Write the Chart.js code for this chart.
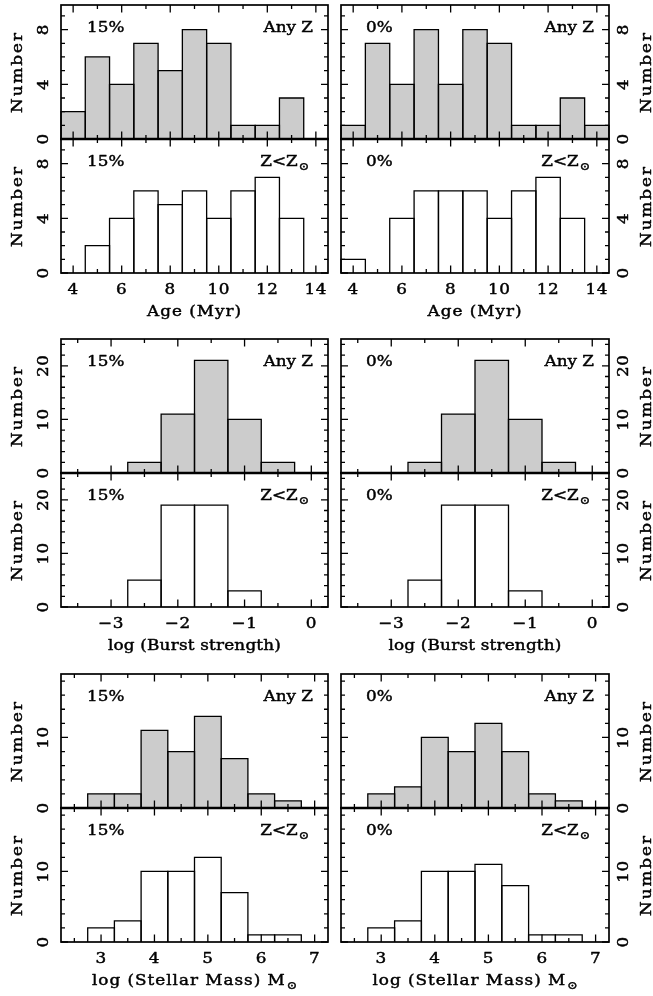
<!DOCTYPE html>
<html><head><meta charset="utf-8">
<script src="https://cdn.jsdelivr.net/npm/chart.js@4.4.1/dist/chart.umd.min.js"></script>
<style>
html,body{margin:0;padding:0;background:#fff;}
#wrap{position:relative;width:653px;height:996px;overflow:hidden;background:#fff;}
canvas{position:absolute;}
</style></head><body><div id="wrap"></div>
<script>
// ---------------- data ----------------
const ageBins   = [4, 5, 6, 7, 8, 9, 10, 11, 12, 13, 14];
const age15Any  = [2, 6, 4, 7, 5, 8, 7, 1, 1, 3, 0];
const age15Sub  = [0, 2, 4, 6, 5, 6, 4, 6, 7, 4, 0];
const age0Any   = [1, 7, 4, 8, 4, 8, 7, 1, 1, 3, 1];
const age0Sub   = [1, 0, 4, 6, 6, 6, 4, 6, 7, 4, 0];

const burstBins  = [-2.5, -2.0, -1.5, -1.0, -0.5];
const burst15Any = [2, 11, 21, 10, 2];
const burst15Sub = [5, 19, 19, 3, 0];
const burst0Any  = [2, 11, 21, 10, 2];
const burst0Sub  = [5, 19, 19, 3, 0];

const massBins  = [3.0, 3.5, 4.0, 4.5, 5.0, 5.5, 6.0, 6.5];
const mass15Any = [2, 2, 11, 8, 13, 7, 2, 1];
const mass15Sub = [2, 3, 10, 10, 12, 7, 1, 1];
const mass0Any  = [2, 3, 10, 8, 12, 8, 2, 1];
const mass0Sub  = [2, 3, 10, 10, 11, 8, 1, 1];

// tick labels
const ageXTicks   = [4, 6, 8, 10, 12, 14];
const ageYTicks   = [0, 4, 8];
const burstXTicks = [-3, -2, -1, 0];
const burstYTicks = [0, 10, 20];
const massXTicks  = [3, 4, 5, 6, 7];
const massYTicks  = [0, 10];

const colLabels = ['15%', '0%'];
const rowLabels = ['Any Z', 'Z<Z'];
const yTitle = 'Number';

// ---------------- layout / style ----------------
const FONT = '"DejaVu Serif", "Liberation Serif", serif';
const GRAY = '#cccccc';
const PH = 134;
const SX = 1.12;      // horizontal glyph stretch
const groups = [
  {top: 5,   xMin: 3.5,   xMax: 14.5, yMax: 9.8, binW: 1,   xMinor: 1,   xMajor: 2, yMinor: 1, yMajor: 4,
   bins: ageBins, series: [[age15Any, age15Sub], [age0Any, age0Sub]], xTicks: ageXTicks, yTicks: ageYTicks,
   title: 'Age (Myr)', titleW: 94},
  {top: 339, xMin: -3.75, xMax: 0.25, yMax: 25,  binW: 0.5, xMinor: 0.5, xMajor: 1, yMinor: 2, yMajor: 10,
   bins: burstBins, series: [[burst15Any, burst15Sub], [burst0Any, burst0Sub]], xTicks: burstXTicks, yTicks: burstYTicks,
   title: 'log (Burst strength)', titleW: 173},
  {top: 674, xMin: 2.25,  xMax: 7.25, yMax: 19,  binW: 0.5, xMinor: 0.5, xMajor: 1, yMinor: 2, yMajor: 10,
   bins: massBins, series: [[mass15Any, mass15Sub], [mass0Any, mass0Sub]], xTicks: massXTicks, yTicks: massYTicks,
   title: 'log (Stellar Mass) M', titleSub: true, titleW: 204}
];
const cols = [
  {left: 61,  right: 328, cx: 0,   cw: 335, side: 'left',  pctW: 30},
  {left: 341, right: 609, cx: 335, cw: 318, side: 'right', pctW: 22}
];

function fmt(v) { return v < 0 ? '\u2212' + Math.abs(v) : String(v); }

function setFont(ctx, size, ls) {
  ctx.font = size + 'px ' + FONT;
  try { ctx.letterSpacing = (ls || 0) + 'px'; } catch (e) {}
}

// draw a string (optionally with a small sun subscript) at (x,y), rotated by rot,
// stretched horizontally by SX, with letter spacing chosen to reach width w (if given)
function drawText(ctx, s, x, y, opt) {
  const size = opt.size || 15, align = opt.align || 'center', rot = opt.rot || 0;
  const sun = !!opt.sun;
  setFont(ctx, 11, 0);
  const wSun = sun ? ctx.measureText('\u2299').width * SX + 1 : 0;
  setFont(ctx, size, 0);
  const n = [...s].length;
  const nat = ctx.measureText(s).width * SX;
  let ls = opt.ls || 0;
  if (opt.w && n > 1) ls = Math.max(0, (opt.w - wSun - nat) / (n - 1) / SX);
  setFont(ctx, size, ls);
  const w1 = ctx.measureText(s).width;
  const tot = w1 * SX + wSun;
  let start = 0;
  if (align === 'right') start = -tot;
  else if (align === 'center') start = -tot / 2;
  ctx.save();
  ctx.translate(x, y);
  if (rot) ctx.rotate(rot);
  ctx.save();
  ctx.translate(start, 0);
  ctx.scale(SX, 1);
  ctx.textAlign = 'left';
  ctx.lineWidth = 0.45; ctx.strokeStyle = '#000'; ctx.lineJoin = 'round';
  ctx.fillText(s, 0, 0);
  ctx.strokeText(s, 0, 0);
  if (sun) {
    setFont(ctx, 11, 0);
    ctx.fillText('\u2299', w1 + 1 / SX, 3.5);
    ctx.strokeText('\u2299', w1 + 1 / SX, 3.5);
  }
  ctx.restore();
  ctx.restore();
}

function makePlugin(g, col, ci, row) {
  return {
    id: 'hist' + ci + row,
    afterDatasetsDraw(chart) {
      const ctx = chart.ctx, ca = chart.chartArea, xs = chart.scales.x, ys = chart.scales.y;
      ctx.save();
      // bar outlines from bar elements
      ctx.strokeStyle = '#000'; ctx.lineWidth = 1.3; ctx.lineJoin = 'miter';
      chart.getDatasetMeta(0).data.forEach(el => {
        const p = el.getProps(['x', 'y', 'base', 'width'], true);
        if (Math.abs(p.base - p.y) < 0.01) return;
        ctx.beginPath();
        ctx.moveTo(p.x - p.width / 2, p.base);
        ctx.lineTo(p.x - p.width / 2, p.y);
        ctx.lineTo(p.x + p.width / 2, p.y);
        ctx.lineTo(p.x + p.width / 2, p.base);
        ctx.stroke();
      });
      // ticks
      ctx.lineWidth = 1.3;
      const eps = 1e-6;
      for (let v = Math.ceil(g.xMin / g.xMinor) * g.xMinor; v <= g.xMax + eps; v += g.xMinor) {
        const px = xs.getPixelForValue(v);
        const major = Math.abs(v / g.xMajor - Math.round(v / g.xMajor)) < eps;
        const L = major ? 7.5 : 4;
        ctx.beginPath();
        ctx.moveTo(px, ca.bottom); ctx.lineTo(px, ca.bottom - L);
        ctx.moveTo(px, ca.top); ctx.lineTo(px, ca.top + L);
        ctx.stroke();
      }
      for (let v = 0; v <= g.yMax + eps; v += g.yMinor) {
        const py = ys.getPixelForValue(v);
        const major = Math.abs(v / g.yMajor - Math.round(v / g.yMajor)) < eps;
        const L = major ? 7 : 4;
        ctx.beginPath();
        ctx.moveTo(ca.left, py); ctx.lineTo(ca.left + L, py);
        ctx.moveTo(ca.right, py); ctx.lineTo(ca.right - L, py);
        ctx.stroke();
      }
      // frame
      ctx.lineWidth = 1.7;
      ctx.strokeRect(ca.left, ca.top, ca.right - ca.left, ca.bottom - ca.top);
      if (row === 0) {   // heavier shared divider between stacked panels
        ctx.lineWidth = 2.4;
        ctx.beginPath();
        ctx.moveTo(ca.left - 0.85, ca.bottom); ctx.lineTo(ca.right + 0.85, ca.bottom);
        ctx.stroke();
      }
      ctx.restore();
    },
    afterDraw(chart) {
      const ctx = chart.ctx, ca = chart.chartArea, xs = chart.scales.x, ys = chart.scales.y;
      ctx.save();
      ctx.fillStyle = '#000';
      ctx.textBaseline = 'alphabetic';
      // annotations
      drawText(ctx, colLabels[ci], ca.left + (ci === 0 ? 26 : 25), ca.top + 27, {align: 'left', w: col.pctW});
      if (row === 0) {
        drawText(ctx, rowLabels[0], ca.right - 15, ca.top + 27, {align: 'right', w: 48});
      } else {
        drawText(ctx, rowLabels[1], ca.right - 19, ca.top + 27, {align: 'right', w: 43, sun: true});
      }
      // y tick labels (rotated)
      const bx = col.side === 'left' ? ca.left - 13 : ca.right + 19;
      g.yTicks.forEach(v => {
        drawText(ctx, fmt(v), bx, ys.getPixelForValue(v), {rot: -Math.PI / 2, ls: 0.5});
      });
      // y title
      const tx = col.side === 'left' ? ca.left - 39 : ca.right + 42;
      drawText(ctx, yTitle, tx, (ca.top + ca.bottom) / 2, {rot: -Math.PI / 2, w: 80});
      // x labels on lower panels
      if (row === 1) {
        g.xTicks.forEach(v => {
          drawText(ctx, fmt(v), xs.getPixelForValue(v), ca.bottom + 21, {ls: 0.5});
        });
        const cxm = (ca.left + ca.right) / 2;
        drawText(ctx, g.title, cxm, ca.bottom + 43, {w: g.titleW, sun: !!g.titleSub});
      }
      ctx.restore();
    }
  };
}

const wrap = document.getElementById('wrap');
groups.forEach(g => {
  cols.forEach((col, ci) => {
    [0, 1].forEach(row => {
      const ftop = g.top + row * PH;
      const padTop = 10, padBot = row === 1 ? 56 : 10;
      const ch = padTop + PH + padBot;
      const cv = document.createElement('canvas');
      cv.width = col.cw; cv.height = ch;
      cv.style.left = col.cx + 'px'; cv.style.top = (ftop - padTop) + 'px';
      cv.style.width = col.cw + 'px'; cv.style.height = ch + 'px';
      wrap.appendChild(cv);
      const vals = g.series[ci][row];
      new Chart(cv, {
        type: 'bar',
        data: {
          datasets: [{
            data: g.bins.map((b, i) => ({x: b, y: vals[i]})),
            backgroundColor: row === 0 ? GRAY : '#ffffff',
            borderWidth: 0,
            inflateAmount: 0,
            barPercentage: 1,
            categoryPercentage: 1
          }]
        },
        options: {
          responsive: false,
          animation: false,
          events: [],
          layout: {padding: {left: col.left - col.cx, right: col.cx + col.cw - col.right, top: padTop, bottom: padBot}},
          plugins: {legend: {display: false}, tooltip: {enabled: false}},
          scales: {
            x: {type: 'linear', min: g.xMin, max: g.xMax, offset: false, display: false,
                ticks: {stepSize: g.binW}},
            y: {type: 'linear', min: 0, max: g.yMax, display: false}
          }
        },
        plugins: [makePlugin(g, col, ci, row)]
      });
    });
  });
});
</script>
</body></html>
